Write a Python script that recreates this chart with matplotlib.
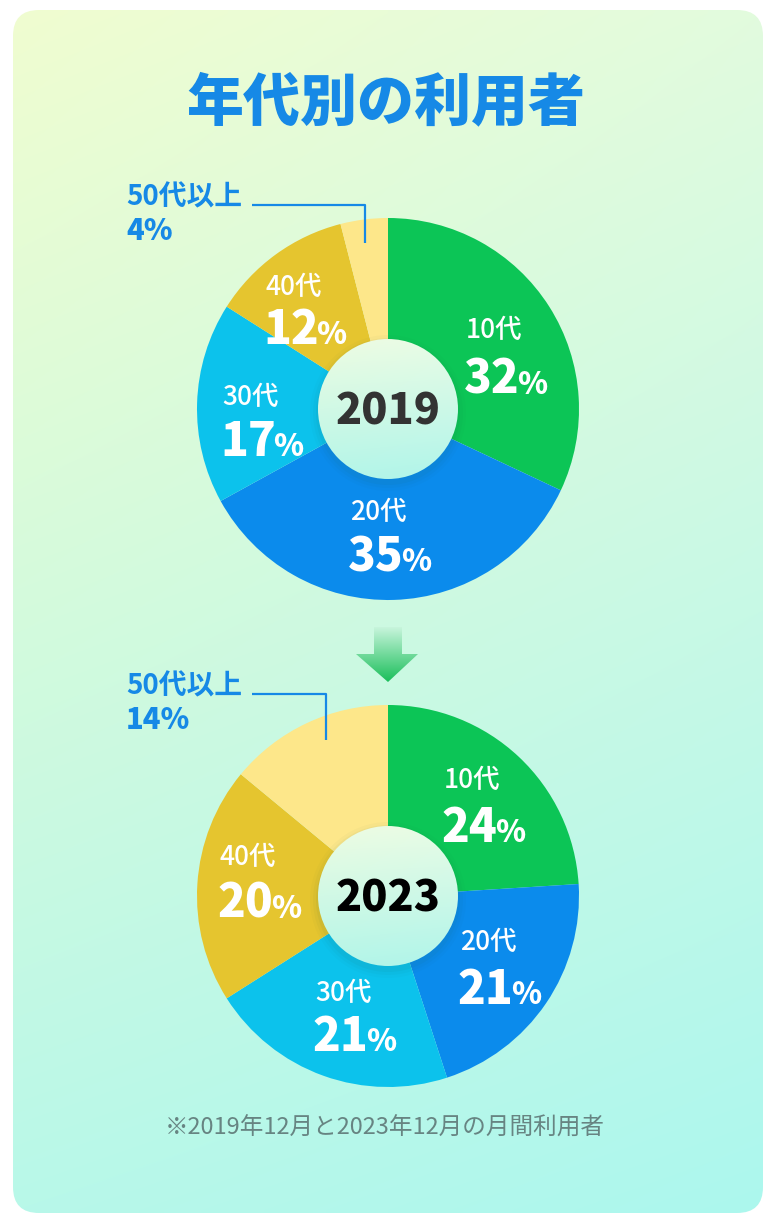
import numpy as np
import matplotlib
matplotlib.use('Agg')
import matplotlib.pyplot as plt
from matplotlib.patches import FancyBboxPatch, Circle, Polygon

W, H = 766, 1223

# data
ages = ['10代', '20代', '30代', '40代', '50代以上']
share_2019 = [32, 35, 17, 12, 4]
share_2023 = [24, 21, 21, 20, 14]
years = ['2019', '2023']
title = '年代別の利用者'
note = '※2019年12月と2023年12月の月間利用者'

colors = ['#0cc556', '#0b8bec', '#0cc2ec', '#e5c52f', '#fde78a']
BLUE = '#1689e6'
JP = ['Noto Sans CJK JP', 'DejaVu Sans']


def Y(py):
    # pixel row (from top) -> data y
    return H - py


fig = plt.figure(figsize=(W / 100, H / 100), dpi=100)
fig.patch.set_facecolor('white')
ax = fig.add_axes([0, 0, 1, 1])
ax.set_xlim(0, W)
ax.set_ylim(0, H)
ax.set_aspect('equal')
ax.set_autoscale_on(False)


def grad_fill(patch, corners, extent, zorder):
    # bilinear gradient between tl, tr, bl, br, clipped to patch
    t = np.linspace(0, 1, 200)
    u, v = np.meshgrid(t, t)
    tl, tr, bl, br = [np.array(c) / 255 for c in corners]
    img = (((1 - u) * (1 - v))[..., None] * tl + (u * (1 - v))[..., None] * tr
           + ((1 - u) * v)[..., None] * bl + (u * v)[..., None] * br)
    im = ax.imshow(img, extent=extent, origin='upper', zorder=zorder,
                   interpolation='bilinear')
    im.set_clip_path(patch)
    ax.set_xlim(0, W)
    ax.set_ylim(0, H)


# card background
card = FancyBboxPatch((13, Y(1213)), 750, 1203,
                      boxstyle='round,pad=0,rounding_size=26',
                      facecolor='none', edgecolor='none')
ax.add_patch(card)
grad_fill(card, [(240, 253, 208), (226, 251, 222), (184, 248, 233), (172, 247, 238)],
          (13, 763, Y(1213), Y(10)), 0)

ax.text(386, Y(104), title, ha='center', va='center', fontsize=41,
        fontweight='black', color=BLUE, family=JP)


def draw_pie(cx, cy, shares, year, year_color, spots, callout):
    ax.pie(shares, colors=colors, startangle=90, counterclock=False, radius=191,
           center=(cx, Y(cy)), frame=True,
           wedgeprops=dict(linewidth=0, zorder=2))
    ax.set_xlim(0, W)
    ax.set_ylim(0, H)

    # soft shadow + gradient centre disc
    for i, a in enumerate([0.025, 0.035, 0.05]):
        ax.add_patch(Circle((cx, Y(cy) - 4), 78 - i * 3, facecolor='#20604a',
                            edgecolor='none', alpha=a, zorder=3))
    disc = Circle((cx, Y(cy)), 70, facecolor='none', edgecolor='none', zorder=4)
    ax.add_patch(disc)
    grad_fill(disc, [(238, 252, 226), (232, 252, 230), (180, 246, 232), (176, 245, 234)],
              (cx - 70, cx + 70, Y(cy) - 70, Y(cy) + 70), 4)
    ax.text(cx, Y(cy + 3), year, ha='center', va='center', fontsize=31,
            fontweight='black', color=year_color, family=JP, zorder=5)

    r = fig.canvas.get_renderer()
    for age, pct, (x, y_age, y_num) in zip(ages[:4], shares[:4], spots):
        ax.text(x, Y(y_age), age, ha='left', va='center', fontsize=19,
                fontweight='medium', color='white', family=JP, zorder=5)
        t = ax.text(x - 2, Y(y_num + 16), str(pct), ha='left', va='baseline',
                    fontsize=33, fontweight='black', color='white', family=JP, zorder=5)
        bb = t.get_window_extent(renderer=r)
        x1 = ax.transData.inverted().transform((bb.x1, bb.y0))[0]
        ax.text(x1 - 3, Y(y_num + 16), '%', ha='left', va='baseline', fontsize=22,
                fontweight='black', color='white', family=JP, zorder=5)

    # callout for the smallest group
    tx, ty, lx, ly_end = callout
    ax.text(tx, Y(ty), ages[4], ha='left', va='center', fontsize=20,
            fontweight='bold', color=BLUE, family=JP, zorder=5)
    ax.text(tx, Y(ty + 34), f'{shares[4]}%', ha='left', va='center', fontsize=21,
            fontweight='black', color=BLUE, family=JP, zorder=5)
    ax.plot([252, lx, lx], [Y(ty + 8), Y(ty + 8), Y(ly_end)], color=BLUE,
            lw=1.6, zorder=5, solid_capstyle='butt')


draw_pie(388, 409, share_2019, years[0], '#333333',
         [(466, 330, 378), (350, 512, 555), (222, 397, 440), (265, 287, 328)],
         (126, 197, 365, 243))
draw_pie(388, 896, share_2023, years[1], '#000000',
         [(444, 780, 826), (460, 942, 988), (315, 993, 1035), (220, 857, 902)],
         (126, 686, 326, 740))

# arrow between the two years
arrow = Polygon([(374, Y(627)), (402, Y(627)), (402, Y(654)), (418, Y(654)),
                 (388, Y(682)), (356, Y(654)), (374, Y(654))],
                closed=True, facecolor='none', edgecolor='none', zorder=2)
ax.add_patch(arrow)
grad_fill(arrow, [(200, 245, 220), (200, 245, 220), (26, 190, 90), (26, 190, 90)],
          (356, 418, Y(682), Y(627)), 2)

ax.text(165, Y(1128), note, ha='left', va='center', fontsize=17,
        color='#678482', family=JP)

ax.set_xlim(0, W)
ax.set_ylim(0, H)
ax.axis('off')

fig.savefig('out.png', dpi=100, facecolor='white')
